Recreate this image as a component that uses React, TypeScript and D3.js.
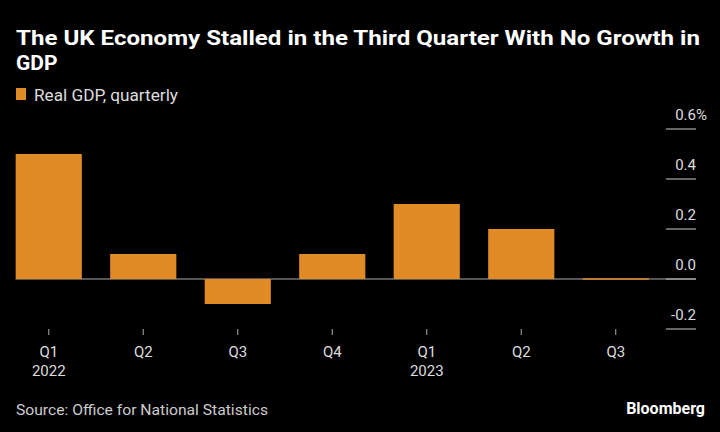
import React, { useEffect } from "react";
import * as d3 from "d3";

const categories = ["Q1", "Q2", "Q3", "Q4", "Q1", "Q2", "Q3"];
const years = ["2022", "", "", "", "2023", "", ""];
const values = [0.5, 0.1, -0.1, 0.1, 0.3, 0.2, 0.0];
const yTicks = [0.6, 0.4, 0.2, 0.0, -0.2];

const W = 720;
const H = 432;
const ORANGE = "#e08b26";
const FONT = "'Liberation Sans Narrow', 'Roboto', 'Liberation Sans', sans-serif";

export default function App() {
  useEffect(() => {
    document.body.style.margin = "0";
    document.body.style.background = "#000";
  }, []);

  const idx = categories.map((_, i) => String(i));
  const x = d3.scaleBand<string>().domain(idx).range([1.5, 663]).paddingInner(0.3).paddingOuter(0.15);
  const y = d3.scaleLinear().domain([-0.2, 0.6]).range([329, 129]);
  const y0 = y(0);

  return (
    <svg width={W} height={H} style={{ display: "block", background: "#000" }} fontFamily={FONT}>
      <rect x={0} y={0} width={W} height={H} fill="#000" />
      <text x={16} y={45} fill="#fff" fontSize={21} fontWeight="bold" textLength={684} lengthAdjust="spacingAndGlyphs">
        The UK Economy Stalled in the Third Quarter With No Growth in
      </text>
      <text x={16} y={70} fill="#fff" fontSize={21} fontWeight="bold">GDP</text>

      <rect x={16} y={88} width={10} height={12} fill={ORANGE} />
      <text x={34} y={101} fill="#ddd" fontSize={16} textLength={144} lengthAdjust="spacingAndGlyphs">Real GDP, quarterly</text>

      {/* y gridline stubs and labels */}
      {yTicks.map((t) => (
        <g key={t}>
          <line x1={666} x2={696} y1={y(t)} y2={y(t)} stroke="#ccc" strokeWidth={1} />
          <text x={696} y={y(t) - 9} fill="#ddd" fontSize={15} textAnchor="end">
            {t.toFixed(1)}
          </text>
          {t === yTicks[0] ? (
            <text x={696} y={y(t) - 9} fill="#ddd" fontSize={15}>%</text>
          ) : null}
        </g>
      ))}

      {/* zero line */}
      <line x1={15.7} x2={696} y1={y0} y2={y0} stroke="#aaa" strokeWidth={1.2} />

      {/* bars */}
      {values.map((v, i) => {
        const xx = x(String(i))!;
        const top = Math.min(y(v), y0);
        const h = Math.abs(y(v) - y0);
        return v === 0 ? (
          <line key={i} x1={xx} x2={xx + x.bandwidth()} y1={y0} y2={y0} stroke={ORANGE} strokeWidth={1.5} />
        ) : (
          <rect key={i} x={xx} y={top} width={x.bandwidth()} height={h} fill={ORANGE} />
        );
      })}

      {/* x ticks and labels */}
      {categories.map((c, i) => {
        const cx = x(String(i))! + x.bandwidth() / 2;
        return (
          <g key={i}>
            <line x1={cx} x2={cx} y1={329} y2={335} stroke="#aaa" strokeWidth={1} />
            <text x={cx} y={357} fill="#ddd" fontSize={15} textAnchor="middle">{c}</text>
            {years[i] ? (
              <text x={cx} y={376} fill="#ddd" fontSize={15} textAnchor="middle">{years[i]}</text>
            ) : null}
          </g>
        );
      })}

      <text x={16} y={415} fill="#ccc" fontSize={15} textLength={252} lengthAdjust="spacingAndGlyphs">Source: Office for National Statistics</text>
      <text x={705} y={414} fill="#fff" fontSize={16} fontWeight="bold" textAnchor="end">Bloomberg</text>
    </svg>
  );
}
